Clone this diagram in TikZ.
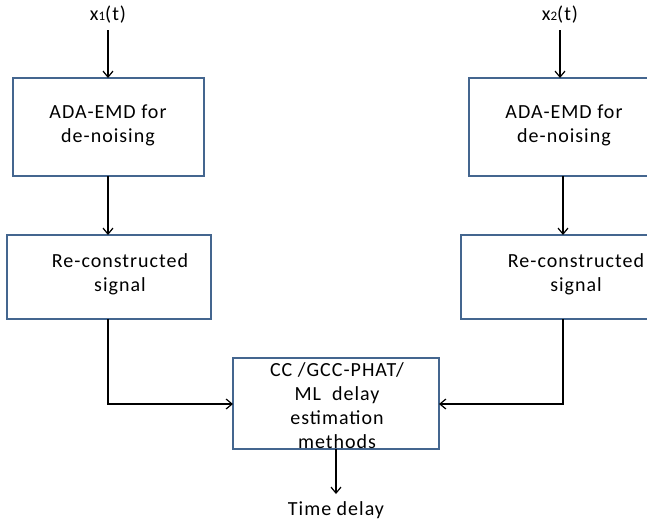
\documentclass[tikz,border=0pt]{standalone}
\usepackage{fontspec}
\setmainfont{Carlito}[LetterSpace=5]
\usetikzlibrary{arrows.meta}
\definecolor{boxblue}{HTML}{44668F}
\begin{document}
\begin{tikzpicture}[x=1pt,y=-1pt,
  blk/.style={draw=boxblue,line width=2.4pt,fill=white},
  txt/.style={align=center,font=\fontsize{20}{24}\selectfont,inner sep=0pt},
  arr/.style={line width=1.4pt,-{Straight Barb[length=6pt,width=10pt,line width=1.2pt]}},
  ln/.style={line width=1.4pt}]
\useasboundingbox (0,0) rectangle (647,523);
\begin{scope}
\clip (0,0) rectangle (647,523);
% boxes
\path[blk] (13,78) rectangle (204,176);
\path[blk] (7,235) rectangle (211,319);
\path[blk] (469,78) rectangle (680,176);
\path[blk] (461,235) rectangle (690,319);
\path[blk] (233,358) rectangle (439,449);
\end{scope}
\node[txt] (ada1) at (108,125) {ADA-EMD for\\de-noising};
\node[txt] (rec1) at (120,274) {Re-constructed\\signal};
\node[txt] (ada2) at (564,125) {ADA-EMD for\\de-noising};
\node[txt] (rec2) at (576,274) {Re-constructed\\signal};
\node[txt] (est) at (337,406) {CC /GCC-PHAT/\\ML\ \ delay\\estimation\\methods};
\node[txt] (td) at (336,510) {Time delay};
\node[txt] (x1) at (108,15) {x{\fontsize{13}{13}\selectfont 1}(t)};
\node[txt] (x2) at (560,15) {x{\fontsize{13}{13}\selectfont 2}(t)};
\coordinate (a1t) at (108,78);
\coordinate (a1b) at (108,176);
\coordinate (r1t) at (108,235);
\coordinate (r1b) at (108,319);
\coordinate (a2t) at (560,78);
\coordinate (a2b) at (563,176);
\coordinate (r2t) at (563,235);
\coordinate (r2b) at (563,319);
\coordinate (eL) at (233,404);
\coordinate (eR) at (439,404);
\coordinate (eB) at (336,449);
\coordinate (tdT) at (336,494);
\draw[arr] (108,30) -- (a1t);
\draw[arr] (a1b) -- (r1t);
\draw[arr] (560,30) -- (a2t);
\draw[arr] (a2b) -- (r2t);
\draw[arr] (r1b) |- (eL);
\draw[arr] (r2b) |- (eR);
\draw[arr] (eB) -- (tdT);
\end{tikzpicture}
\end{document}
